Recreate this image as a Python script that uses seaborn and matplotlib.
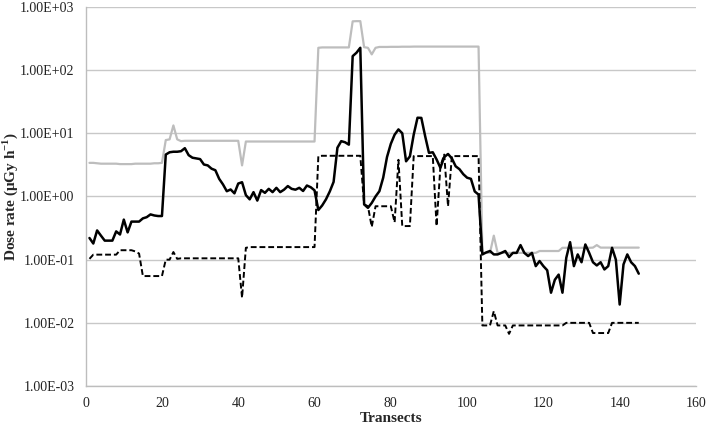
import matplotlib
matplotlib.use("Agg")
import matplotlib.pyplot as plt
import matplotlib.ticker as mticker
import numpy as np
import pandas as pd
import seaborn as sns

transects = list(range(1, 146))

upper_rate = [
    3.4, 3.4, 3.35, 3.3, 3.3, 3.3, 3.3, 3.3, 3.25, 3.25,
    3.25, 3.25, 3.3, 3.3, 3.3, 3.3, 3.3, 3.35, 3.35, 3.4,
    7.8, 8.0, 13.3, 8.0, 7.5, 7.6, 7.6, 7.6, 7.6, 7.6,
    7.6, 7.6, 7.6, 7.6, 7.6, 7.6, 7.6, 7.6, 7.6, 7.6,
    3.1, 7.4, 7.4, 7.4, 7.4, 7.4, 7.4, 7.4, 7.4, 7.4,
    7.4, 7.4, 7.4, 7.4, 7.4, 7.4, 7.4, 7.4, 7.4, 7.4,
    225, 228, 228, 228, 228, 228, 228, 228, 228, 590,
    594, 594, 230, 225, 177, 225, 232, 232, 232, 233,
    233, 233, 234, 234, 234, 235, 235, 235, 235, 235,
    235, 235, 235, 235, 235, 235, 235, 235, 235, 235,
    235, 235, 235, 0.128, 0.128, 0.128, 0.24, 0.128, 0.128, 0.128,
    0.128, 0.128, 0.128, 0.128, 0.128, 0.128, 0.128, 0.128, 0.137, 0.137,
    0.137, 0.137, 0.137, 0.137, 0.154, 0.154, 0.154, 0.154, 0.154, 0.154,
    0.154, 0.154, 0.155, 0.17, 0.155, 0.155, 0.155, 0.155, 0.155, 0.155,
    0.155, 0.155, 0.155, 0.155, 0.155,
]

middle_rate = [
    0.22, 0.18, 0.29, 0.24, 0.2, 0.2, 0.2, 0.28, 0.25, 0.43,
    0.27, 0.4, 0.4, 0.4, 0.45, 0.47, 0.52, 0.5, 0.49, 0.49,
    4.6, 5.0, 5.1, 5.1, 5.2, 5.8, 4.5, 4.1, 4.0, 3.9,
    3.2, 3.1, 2.75, 2.6, 1.9, 1.55, 1.21, 1.29, 1.12, 1.6,
    1.68, 1.05, 0.9, 1.17, 0.86, 1.26, 1.14, 1.32, 1.17, 1.37,
    1.17, 1.28, 1.46, 1.32, 1.28, 1.37, 1.22, 1.49, 1.4, 1.25,
    0.61, 0.72, 0.9, 1.2, 1.7, 5.9, 7.5, 7.2, 6.6, 166,
    188, 225, 0.75, 0.66, 0.79, 1.0, 1.21, 1.98, 4.2, 6.8,
    9.5, 11.5, 10.0, 3.6, 4.3, 9.5, 17.6, 17.5, 9.0, 4.9,
    5.0, 3.85, 2.84, 4.2, 4.7, 4.0, 3.0, 2.7, 2.25, 1.98,
    1.9, 1.2, 1.07, 0.121, 0.13, 0.137, 0.121, 0.121, 0.128, 0.137,
    0.11, 0.128, 0.128, 0.17, 0.128, 0.114, 0.128, 0.079, 0.095, 0.079,
    0.068, 0.03, 0.048, 0.058, 0.03, 0.107, 0.189, 0.079, 0.121, 0.091,
    0.174, 0.128, 0.091, 0.081, 0.091, 0.07, 0.079, 0.154, 0.1, 0.0195,
    0.084, 0.121, 0.091, 0.079, 0.06,
]

lower_rate = [
    0.103, 0.12, 0.12, 0.12, 0.12, 0.12, 0.12, 0.12, 0.141, 0.141,
    0.141, 0.141, 0.135, 0.125, 0.055, 0.055, 0.055, 0.055, 0.055, 0.055,
    0.1, 0.1, 0.132, 0.103, 0.105, 0.105, 0.105, 0.105, 0.105, 0.105,
    0.105, 0.105, 0.105, 0.105, 0.105, 0.105, 0.105, 0.105, 0.105, 0.105,
    0.025, 0.154, 0.158, 0.158, 0.158, 0.158, 0.158, 0.158, 0.158, 0.158,
    0.158, 0.158, 0.158, 0.158, 0.158, 0.158, 0.158, 0.158, 0.158, 0.158,
    4.35, 4.4, 4.4, 4.4, 4.4, 4.4, 4.4, 4.4, 4.4, 4.4,
    4.4, 4.4, 0.75, 0.7, 0.33, 0.7, 0.7, 0.7, 0.7, 0.7,
    0.39, 3.8, 0.34, 0.34, 0.34, 4.35, 4.35, 4.35, 4.35, 4.35,
    4.35, 0.34, 3.0, 4.6, 0.7, 4.35, 4.35, 4.35, 4.35, 4.35,
    4.35, 4.35, 4.35, 0.0091, 0.0091, 0.0091, 0.0153, 0.0091, 0.0091, 0.0091,
    0.0067, 0.0091, 0.0091, 0.0091, 0.0091, 0.0091, 0.0091, 0.0091, 0.0091, 0.0091,
    0.0091, 0.0091, 0.0091, 0.0091, 0.0091, 0.01, 0.01, 0.01, 0.01, 0.01,
    0.01, 0.01, 0.0069, 0.0069, 0.0069, 0.0069, 0.0069, 0.01, 0.01, 0.01,
    0.01, 0.01, 0.01, 0.01, 0.01,
]

y_ticks = [1e-3, 1e-2, 1e-1, 1e0, 1e1, 1e2, 1e3]
x_ticks = [0, 20, 40, 60, 80, 100, 120, 140, 160]

df = pd.DataFrame(
    {
        "transect": transects,
        "upper": upper_rate,
        "middle": middle_rate,
        "lower": lower_rate,
    }
)

sns.set_style("white")
plt.rcParams["font.family"] = ["Liberation Serif", "DejaVu Serif"]
plt.rcParams["mathtext.fontset"] = "custom"
plt.rcParams["mathtext.bf"] = "Liberation Serif:bold"
plt.rcParams["mathtext.rm"] = "Liberation Serif"

fig = plt.figure(figsize=(7.08, 4.28), dpi=100)
ax = fig.add_axes([0.121, 0.098, 0.862, 0.886])

sns.lineplot(data=df, x="transect", y="upper", color="#bdbdbd", linewidth=1.6, ax=ax)
sns.lineplot(data=df, x="transect", y="middle", color="black", linewidth=1.8, ax=ax)
sns.lineplot(
    data=df, x="transect", y="lower", color="black", linewidth=1.4,
    linestyle=(0, (3, 1.5)), ax=ax,
)

ax.set_yscale("log")
ax.set_ylim(1e-3, 1e3)
ax.set_xlim(0, 160)
ax.set_yticks(y_ticks)
ax.yaxis.set_minor_locator(mticker.NullLocator())
ax.yaxis.set_major_formatter(mticker.FuncFormatter(lambda v, p: f"{v:.2E}"))
ax.set_xticks(x_ticks)

ax.grid(axis="y", color="#c8c8c8", linewidth=1.0)
ax.set_axisbelow(True)
for side in ["top", "right"]:
    ax.spines[side].set_visible(False)
for side in ["left", "bottom"]:
    ax.spines[side].set_color("#bdbdbd")
    ax.spines[side].set_linewidth(1.0)
ax.tick_params(axis="both", which="major", length=4, color="#bdbdbd",
               labelsize=10, labelcolor="#222222", direction="out", pad=4)

ax.set_xlabel("Transects", fontsize=11, fontweight="bold", labelpad=1)
ax.set_ylabel(r"Dose rate (μGy h$^{\mathbf{-1}}$)", fontsize=11, fontweight="bold")
ax.yaxis.set_label_coords(-0.107, 0.5)

fig.savefig("out.png", dpi=100)
